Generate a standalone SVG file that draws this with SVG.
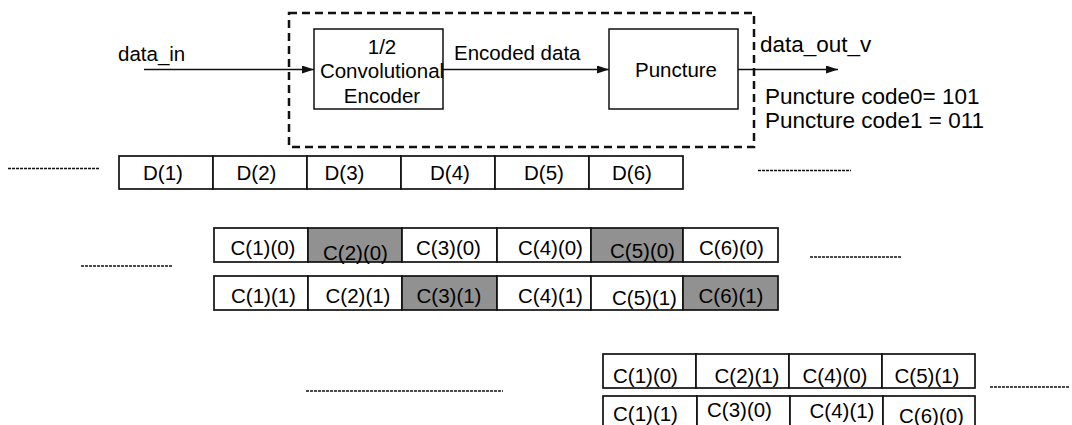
<svg xmlns="http://www.w3.org/2000/svg" width="1072" height="425" viewBox="0 0 1072 425">
<defs>
<style>
text{font-family:"Liberation Sans",Arial,Helvetica,sans-serif;font-size:20.5px;fill:#000}
.m{text-anchor:middle}
.big{font-size:22.5px}
.box{fill:#fff;stroke:#111;stroke-width:1.5}
.cell{fill:#fff;stroke:#111;stroke-width:1.7}
.g{fill:#919191}
.dot{stroke:#111;stroke-width:1.5;stroke-dasharray:3 1;fill:none}
.conn{stroke:#111;stroke-width:1.3;fill:none}
</style>
<marker id="ah" viewBox="0 0 12 8" refX="12" refY="4" markerWidth="12" markerHeight="8" markerUnits="userSpaceOnUse" orient="auto">
<path d="M0,0 L12,4 L0,8 Z" fill="#111"/>
</marker>
</defs>
<rect width="1072" height="425" fill="#fff"/>

<g id="system-boundary">
<rect x="289" y="13" width="465" height="134" fill="none" stroke="#111" stroke-width="2.5" stroke-dasharray="8 5"/>
</g>

<g id="connectors">
<line class="conn" x1="144" y1="69.5" x2="314" y2="69.5" marker-end="url(#ah)"/>
<line class="conn" x1="443" y1="69.5" x2="609" y2="69.5" marker-end="url(#ah)"/>
<line class="conn" x1="738" y1="69.5" x2="838" y2="69.5" marker-end="url(#ah)"/>
</g>

<g id="encoder">
<rect class="box" x="314" y="29" width="129" height="80"/>
<text class="m" x="382" y="54">1/2</text>
<text class="m" x="382" y="78">Convolutional</text>
<text class="m" x="382" y="103">Encoder</text>
</g>

<g id="puncture">
<rect class="box" x="609" y="29" width="129" height="80"/>
<text class="m" x="676" y="77">Puncture</text>
</g>

<g id="labels">
<text x="118" y="61">data_in</text>
<text x="454" y="60">Encoded data</text>
<text class="big" x="760" y="52">data_out_v</text>
<text class="big" x="765" y="104">Puncture code0= 101</text>
<text class="big" x="765" y="128">Puncture code1 = 011</text>
</g>

<g id="dotted-lines">
<line class="dot" x1="8" y1="168.5" x2="100" y2="168.5"/>
<line class="dot" x1="758" y1="170.5" x2="851" y2="170.5"/>
<line class="dot" x1="81" y1="266" x2="173" y2="266"/>
<line class="dot" x1="810" y1="257" x2="902" y2="257"/>
<line class="dot" x1="306" y1="391" x2="503" y2="391"/>
<line class="dot" x1="990" y1="387" x2="1070" y2="387"/>
</g>

<g id="data-row">
<rect class="cell" x="119" y="156" width="94" height="33"/>
<rect class="cell" x="213" y="156" width="94" height="33"/>
<rect class="cell" x="307" y="156" width="94" height="33"/>
<rect class="cell" x="401" y="156" width="94" height="33"/>
<rect class="cell" x="495" y="156" width="94" height="33"/>
<rect class="cell" x="589" y="156" width="94" height="33"/>
<text class="m" x="163" y="180">D(1)</text>
<text class="m" x="256.5" y="180">D(2)</text>
<text class="m" x="344.5" y="180">D(3)</text>
<text class="m" x="450" y="180">D(4)</text>
<text class="m" x="544" y="180">D(5)</text>
<text class="m" x="632" y="180">D(6)</text>
</g>

<g id="coded-row-0">
<rect class="cell" x="214" y="228" width="94" height="34"/>
<rect class="cell g" x="308" y="228" width="94" height="34"/>
<rect class="cell" x="402" y="228" width="95" height="34"/>
<rect class="cell" x="497" y="228" width="94" height="34"/>
<rect class="cell g" x="591" y="228" width="92" height="34"/>
<rect class="cell" x="683" y="228" width="95" height="34"/>
<text class="m" x="263" y="255">C(1)(0)</text>
<text class="m" x="355.5" y="260">C(2)(0)</text>
<text class="m" x="448.5" y="255">C(3)(0)</text>
<text class="m" x="550.5" y="255">C(4)(0)</text>
<text class="m" x="642.5" y="258">C(5)(0)</text>
<text class="m" x="731.5" y="255">C(6)(0)</text>
</g>

<g id="coded-row-1">
<rect class="cell" x="214" y="276" width="94" height="34"/>
<rect class="cell" x="308" y="276" width="94" height="34"/>
<rect class="cell g" x="402" y="276" width="95" height="34"/>
<rect class="cell" x="497" y="276" width="94" height="34"/>
<rect class="cell" x="591" y="276" width="92" height="34"/>
<rect class="cell g" x="683" y="276" width="95" height="34"/>
<text class="m" x="263.5" y="303">C(1)(1)</text>
<text class="m" x="358" y="303">C(2)(1)</text>
<text class="m" x="449" y="303">C(3)(1)</text>
<text class="m" x="550.5" y="303">C(4)(1)</text>
<text class="m" x="644.5" y="305">C(5)(1)</text>
<text class="m" x="731" y="303">C(6)(1)</text>
</g>

<g id="punctured-row-a">
<rect class="cell" x="603" y="354" width="93" height="34"/>
<rect class="cell" x="696" y="354" width="93" height="34"/>
<rect class="cell" x="789" y="354" width="93" height="34"/>
<rect class="cell" x="882" y="354" width="93" height="34"/>
<text class="m" x="645.5" y="383">C(1)(0)</text>
<text class="m" x="747" y="383">C(2)(1)</text>
<text class="m" x="835" y="383">C(4)(0)</text>
<text class="m" x="927" y="383">C(5)(1)</text>
</g>

<g id="punctured-row-b">
<rect class="cell" x="603" y="396" width="94" height="40"/>
<rect class="cell" x="697" y="396" width="93" height="40"/>
<rect class="cell" x="790" y="396" width="93" height="40"/>
<rect class="cell" x="883" y="396" width="92" height="40"/>
<text class="m" x="645.5" y="421">C(1)(1)</text>
<text class="m" x="739.5" y="417">C(3)(0)</text>
<text class="m" x="842" y="418">C(4)(1)</text>
<text class="m" x="931.5" y="423">C(6)(0)</text>
</g>
</svg>
